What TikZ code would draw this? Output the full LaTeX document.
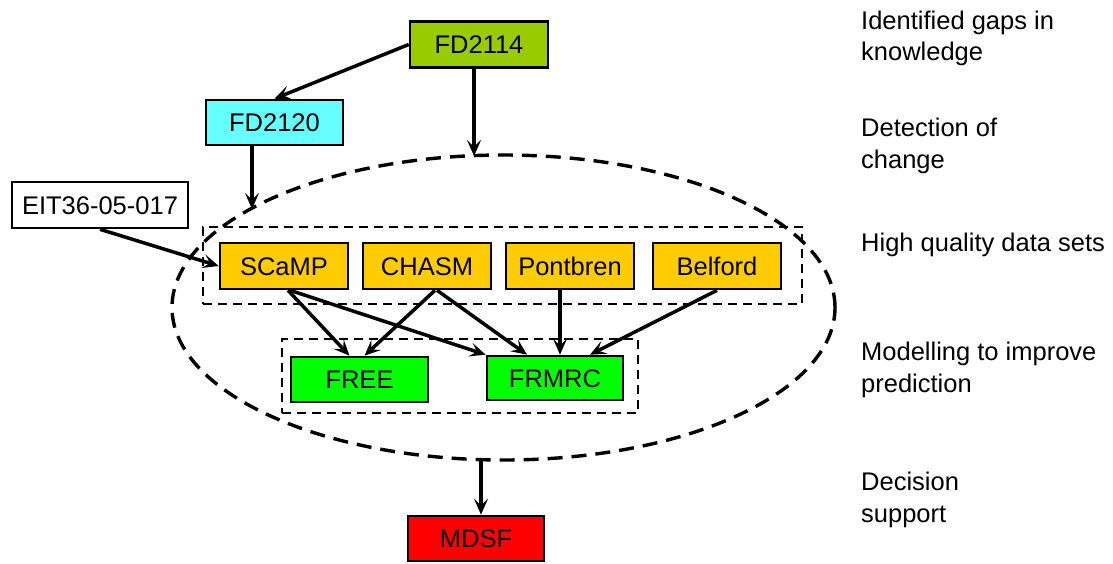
\documentclass[tikz,border=0pt]{standalone}
\usepackage{fontspec}
\setmainfont{Liberation Sans}
\usetikzlibrary{arrows.meta,shapes.geometric}
\definecolor{cLime}{HTML}{99CC00}
\definecolor{cCyan}{HTML}{66FFFF}
\definecolor{cOrange}{HTML}{FFCC00}
\definecolor{cGreen}{HTML}{00FF00}
\definecolor{cRed}{HTML}{FF0000}
\begin{document}
\begin{tikzpicture}[x=1pt,y=-1pt,
  box/.style={draw=black, line width=2.6pt, minimum height=46pt, inner sep=0pt,
    text height=18pt, text depth=0pt, font=\fontsize{25.5}{30}\selectfont},
  arr/.style={line width=3.5pt, -{Stealth[length=16pt,width=14pt,inset=7pt]}},
  dbox/.style={draw=black, dash pattern=on 9pt off 6pt, line width=2.6pt, inner sep=0pt},
  ellbox/.style={draw=black, ellipse, dash pattern=on 15pt off 9pt, line width=3.4pt, inner sep=0pt},
  lbl/.style={anchor=west, align=left, inner sep=0pt, font=\fontsize{25.5}{31.5}\selectfont}
]
\useasboundingbox (0,0) rectangle (1113,563);

% dashed groups
\node[ellbox, minimum width=663pt, minimum height=305pt] (ell) at (503.5,307.5) {};
\node[dbox, minimum width=599pt, minimum height=77pt] (hq) at (502.5,265.5) {};
\node[dbox, minimum width=356pt, minimum height=74pt] (mod) at (460,376) {};

% boxes
\node[box, fill=cLime, minimum width=138pt] (fd2114) at (479,44.5) {FD2114};
\node[box, fill=cCyan, minimum width=137pt, minimum height=45pt] (fd2120) at (274.5,122.5) {FD2120};
\node[box, fill=white, minimum width=176pt] (eit) at (100,205) {EIT36-05-017};

\node[box, fill=cOrange, minimum width=128pt] (scamp) at (284,266) {SCaMP};
\node[box, fill=cOrange, minimum width=128pt] (chasm) at (427,266) {CHASM};
\node[box, fill=cOrange, minimum width=128pt] (pontbren) at (570,266) {Pontbren};
\node[box, fill=cOrange, minimum width=128pt] (belford) at (717,266) {Belford};

\node[box, fill=cGreen, minimum width=137pt, minimum height=45pt] (free) at (359.5,379.5) {FREE};
\node[box, fill=cGreen, minimum width=136pt, minimum height=44pt] (frmrc) at (555,378) {FRMRC};

\node[box, fill=cRed, minimum width=136pt, minimum height=45pt] (mdsf) at (476,538.5) {MDSF};

% points on the ellipse
\coordinate (ellTop) at (474,156);
\coordinate (ellL) at (252,209);
\coordinate (ellBot) at (481,461);

% connectors
\draw[arr] (fd2114.west) -- (fd2120.north);
\draw[arr] ([xshift=-5pt]fd2114.south) -- (ellTop);
\draw[arr] ([xshift=-22.5pt]fd2120.south) -- (ellL);
\draw[arr] (eit.south) -- (scamp.west);
\draw[arr] ([xshift=4pt]scamp.south) -- ([xshift=-10pt]free.north);
\draw[arr] ([xshift=6pt]scamp.south) -- (frmrc.north west);
\draw[arr] ([xshift=8pt]chasm.south) -- ([xshift=5pt]free.north);
\draw[arr] ([xshift=10pt]chasm.south) -- ([xshift=-28pt]frmrc.north);
\draw[arr] ([xshift=-10pt]pontbren.south) -- ([xshift=5pt]frmrc.north);
\draw[arr] (belford.south) -- ([xshift=35pt]frmrc.north);
\draw[arr] (ellBot) -- ([xshift=5pt]mdsf.north);

% stage labels
\node[lbl] (l1) at (861,38.5) {Identified gaps in\\knowledge};
\node[lbl] (l2) at (861,146) {Detection of\\change};
\node[lbl] (l3) at (861,245) {High quality data sets};
\node[lbl] (l4) at (861,370) {Modelling to improve\\prediction};
\node[lbl] (l5) at (861,500) {Decision\\support};
\end{tikzpicture}
\end{document}
